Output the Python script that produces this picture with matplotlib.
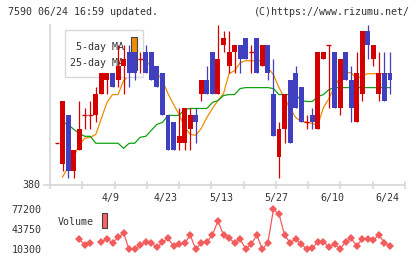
import numpy as np
import matplotlib
matplotlib.use("Agg")
import matplotlib.pyplot as plt
from matplotlib.patches import Rectangle
from matplotlib.transforms import blended_transform_factory

# ---------------- data ----------------
opens  = [386,383,390,382,385,390,390,390,393,395,396,395,397,399,399,398,399,399,397,396,
          390,389,386,386,388,390,393,395,399,393,400,397,399,400,401,399,401,397,400,393,
          384,388,395,396,394,389,390,388,398,400,399,391,399,395,389,393,402,398,393,396,396]
highs  = [386,392,390,385,392,391,392,394,396,396,396,400,400,400,399,399,400,399,397,396,
          390,389,391,391,391,391,395,397,399,403,402,402,400,400,401,400,401,400,400,398,
          389,393,395,397,394,390,391,399,399,400,399,398,399,397,399,402,403,400,399,399,399]
lows   = [386,382,381,381,385,388,388,389,393,393,394,394,393,394,395,396,396,395,394,390,
          385,385,385,385,385,386,392,393,393,393,399,396,396,396,398,396,396,397,395,387,
          381,386,386,391,389,388,388,388,398,391,391,390,395,389,389,392,398,397,392,392,393]
closes = [386,392,382,385,388,390,390,393,396,396,394,397,398,396,396,398,396,395,394,390,
          385,385,387,391,390,389,395,393,393,398,401,399,400,398,398,399,396,400,396,387,
          388,393,386,391,389,389,389,399,399,400,391,398,395,391,396,402,400,400,396,392,395]

nan = np.nan
ma5 = [nan,381.07,382.5,383.93,385.64,386.64,386.79,387.21,389.5,391.79,392.93,392.93,394.93,
       395.64,396.64,397.5,397.79,396.93,396.07,394.93,393.07,391.5,390.07,388.21,387.21,387.07,
       388.07,389.64,390.93,392.07,393.07,395.93,396.36,397.5,397.79,397.79,397.79,397.79,396.79,
       395.79,393.93,392.36,390.93,389.64,389.07,388.93,388.79,388.5,391.07,392.36,394.07,395.36,
       396.07,396.07,395.21,395.64,395.93,395.93,395.93,395.93,395.93]
ma25 = [nan,388.93,388.64,387.93,387.36,386.93,386.93,385.93,385.93,385.93,385.93,385.93,385.21,
        385.93,385.93,386.79,386.93,387.79,388.64,388.93,389.93,389.93,389.93,390.79,390.93,390.93,
        390.93,390.93,391.79,392.07,392.79,392.93,392.93,393.79,393.93,393.93,393.93,393.93,393.93,
        393.79,392.93,392.93,392.93,392.93,392.07,391.93,391.93,392.64,392.93,393.64,393.93,393.93,
        393.93,393.93,393.93,393.93,393.93,393.93,393.93,393.93,393.93]
volume = [nan,nan,nan,nan,27500,17500,20300,nan,23000,27500,21300,30400,37100,10300,10300,17500,
          22000,21300,13600,22000,28700,15800,19200,20300,34200,10300,21300,23000,34200,57600,
          34200,28700,21300,27500,10800,19200,34200,10300,21300,77200,69300,34200,21300,27500,
          19200,10800,12000,23000,23000,13600,19200,10800,23000,28700,15800,27500,27500,25900,
          34200,21300,15800]
vol_ticks = [10300, 43750, 77200]
date_labels = ["4/9", "4/23", "5/13", "5/27", "6/10", "6/24"]
date_idx = [10, 20, 30, 40, 50, 60]
title_left = "7590 06/24 16:59 updated."
title_right = "(C)https://www.rizumu.net/"

# ---------------- style ----------------
W, H = 420, 259
RED = "#d40000"
BLUE = "#3f3fbf"
ORANGE = "#f08c00"
GREEN = "#10a010"
VOLC = "#f25c5c"
GRID = "#d9d9d9"
TXT = "#333333"
FONT = "DejaVu Sans Mono"
FS = 7.2

def fx(x): return x / W
def fy(y): return 1 - y / H

fig = plt.figure(figsize=(W / 100, H / 100), dpi=100)
fig.patch.set_facecolor("white")

step = 5.55
x0 = 57.0
xl = ((50 - x0) / step, (405 - x0) / step)

# main price axes
ax = fig.add_axes([fx(50), fy(184.5), fx(405) - fx(50), fy(24.5) - fy(184.5)])
ax.set_facecolor("none")
ax.set_xlim(*xl)
ax.set_ylim(380, 403)
for s in ["top", "right"]:
    ax.spines[s].set_visible(False)
for s in ["left", "bottom"]:
    ax.spines[s].set_color(GRID)
    ax.spines[s].set_linewidth(1.3)
ax.set_xticks(np.linspace(xl[0], xl[1], 12))
ax.set_xticklabels([])
ax.tick_params(axis="x", direction="inout", length=6, width=1.2, color=GRID)
ax.set_yticks([380])
ax.set_yticklabels(["380"], fontfamily=FONT, fontsize=FS, color=TXT)
ax.tick_params(axis="y", direction="out", length=5, width=1.2, color=GRID, pad=2)

idx = np.arange(len(closes))
ax.plot(idx, ma5, color=ORANGE, lw=0.9, zorder=1)
ax.plot(idx, ma25, color=GREEN, lw=0.9, zorder=1)

bw = 0.9
for i, (o, h, l, c) in enumerate(zip(opens, highs, lows, closes)):
    col = RED if c >= o else BLUE
    if h > l:
        ax.vlines(i, l, h, color=col, lw=0.9, zorder=3, clip_on=False)
    if c == o:
        ax.hlines(c, i - bw / 2, i + bw / 2, color=col, lw=1.0, zorder=3)
    else:
        ax.add_patch(Rectangle((i - bw / 2, min(o, c)), bw, abs(c - o),
                               facecolor=col, edgecolor="none", zorder=3))

# legend box (below candles, above MA lines)
tf = fig.transFigure
ax.add_patch(Rectangle((fx(65), fy(77)), fx(143) - fx(65), fy(30) - fy(77),
                       transform=tf, facecolor="white", edgecolor=GRID, lw=1.0,
                       zorder=2, clip_on=False))
ax.text(fx(124), fy(46.5), "5-day MA", transform=tf, ha="right", va="center",
        fontfamily=FONT, fontsize=FS, color=TXT, zorder=2.5)
ax.text(fx(124), fy(63), "25-day MA", transform=tf, ha="right", va="center",
        fontfamily=FONT, fontsize=FS, color=TXT, zorder=2.5)
ax.add_patch(Rectangle((fx(131), fy(53)), fx(137) - fx(131), fy(37) - fy(53),
                       transform=tf, facecolor=ORANGE, edgecolor="#444444", lw=0.8,
                       zorder=2.5, clip_on=False))
ax.add_patch(Rectangle((fx(131), fy(70)), fx(137) - fx(131), fy(54) - fy(70),
                       transform=tf, facecolor=GREEN, edgecolor="#444444", lw=0.8,
                       zorder=2.5, clip_on=False))

# date labels
bt = blended_transform_factory(ax.transData, tf)
for lab, i in zip(date_labels, date_idx):
    ax.text(i - 0.4, fy(198), lab, transform=bt, ha="center", va="center",
            fontfamily=FONT, fontsize=FS, color=TXT, clip_on=False)

# volume axes
per_px = (77200 - 10300) / 40.0
vb = 10300 - (255 - 249.3) * per_px
vt = 77200 + (209.3 - 203) * per_px
axv = fig.add_axes([fx(50), fy(255), fx(405) - fx(50), fy(203) - fy(255)])
axv.set_facecolor("none")
axv.set_xlim(*xl)
axv.set_ylim(vb, vt)
for s in axv.spines.values():
    s.set_visible(False)
axv.set_xticks([])
axv.set_yticks(vol_ticks)
axv.set_yticklabels([str(v) for v in vol_ticks], fontfamily=FONT, fontsize=FS, color=TXT)
axv.tick_params(axis="y", length=0, pad=6)
axv.plot(idx, volume, color=VOLC, lw=0.9, marker="D", markersize=4.2,
         markeredgewidth=0, clip_on=False)
fig.text(fx(58), fy(222), "Volume", ha="left", va="center",
         fontfamily=FONT, fontsize=FS, color=TXT)
fig.patches.append(Rectangle((fx(102), fy(228)), fx(107) - fx(102), fy(213) - fy(228),
                             transform=tf, facecolor="#ff6060", edgecolor="#444444",
                             lw=0.8, figure=fig))

# header
fig.text(fx(8), fy(12), title_left, ha="left", va="center",
         fontfamily=FONT, fontsize=FS, color=TXT)
fig.text(fx(410), fy(12), title_right, ha="right", va="center",
         fontfamily=FONT, fontsize=FS, color=TXT)

fig.savefig("out.png", dpi=100, facecolor="white")
